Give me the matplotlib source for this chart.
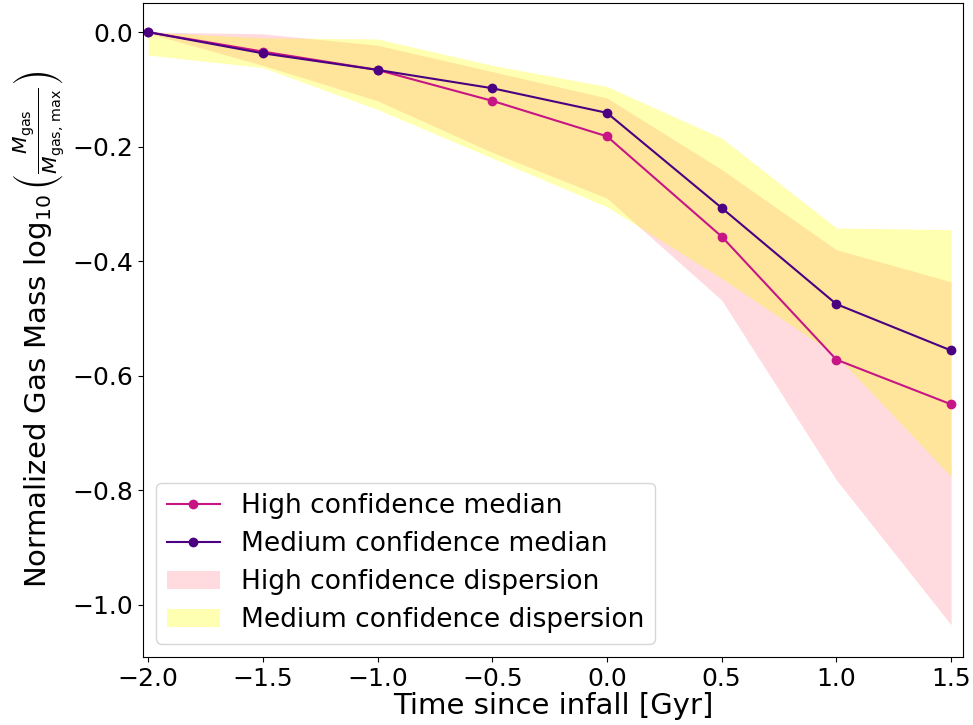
import matplotlib
matplotlib.use('Agg')
import matplotlib.pyplot as plt
import numpy as np

# time bins [Gyr]
time_bins = [-2.0, -1.5, -1.0, -0.5, 0.0, 0.5, 1.0, 1.5]

# medians
high_median = [0.0, -0.034, -0.066, -0.120, -0.182, -0.357, -0.572, -0.650]
med_median = [0.0, -0.037, -0.066, -0.098, -0.141, -0.307, -0.475, -0.556]

# dispersion bands
high_upper = [0.0, -0.003, -0.023, -0.069, -0.115, -0.240, -0.380, -0.436]
high_lower = [-0.002, -0.058, -0.120, -0.210, -0.290, -0.468, -0.782, -1.035]
med_upper = [0.0, -0.010, -0.012, -0.058, -0.095, -0.185, -0.342, -0.345]
med_lower = [-0.040, -0.062, -0.135, -0.220, -0.305, -0.430, -0.565, -0.776]

# colours
_highcol = 'mediumvioletred'
_medcol = 'indigo'

fig = plt.figure(figsize=(9.73, 7.25), dpi=100)
ax = fig.add_axes([0.147, 0.094, 0.843, 0.902])

hb = ax.fill_between(time_bins, high_lower, high_upper, color='lightpink',
                     alpha=0.5, linewidth=0, label='High confidence dispersion')
mb = ax.fill_between(time_bins, med_lower, med_upper, color='yellow',
                     alpha=0.3, linewidth=0, label='Medium confidence dispersion')
hl, = ax.plot(time_bins, high_median, '-o', color=_highcol, lw=1.5, ms=6,
              label='High confidence median')
ml, = ax.plot(time_bins, med_median, '-o', color=_medcol, lw=1.5, ms=6,
              label='Medium confidence median')

ax.set_xlim(-2.022, 1.553)
ax.set_ylim(-1.091, 0.051)
ax.tick_params(labelsize=18)
ax.set_xlabel('Time since infall [Gyr]', fontsize=21, labelpad=1)
ax.set_ylabel(r'Normalized Gas Mass $\log_{10}\left(\frac{M_{\rm gas}}'
              r'{M_{\rm gas,\,max}}\right)$', fontsize=21, labelpad=4)

ax.legend(handles=[hl, ml, hb, mb], loc='lower left', fontsize=19,
          borderaxespad=0.5, handlelength=2.0, labelspacing=0.45)

fig.savefig('out.png', dpi=100)
